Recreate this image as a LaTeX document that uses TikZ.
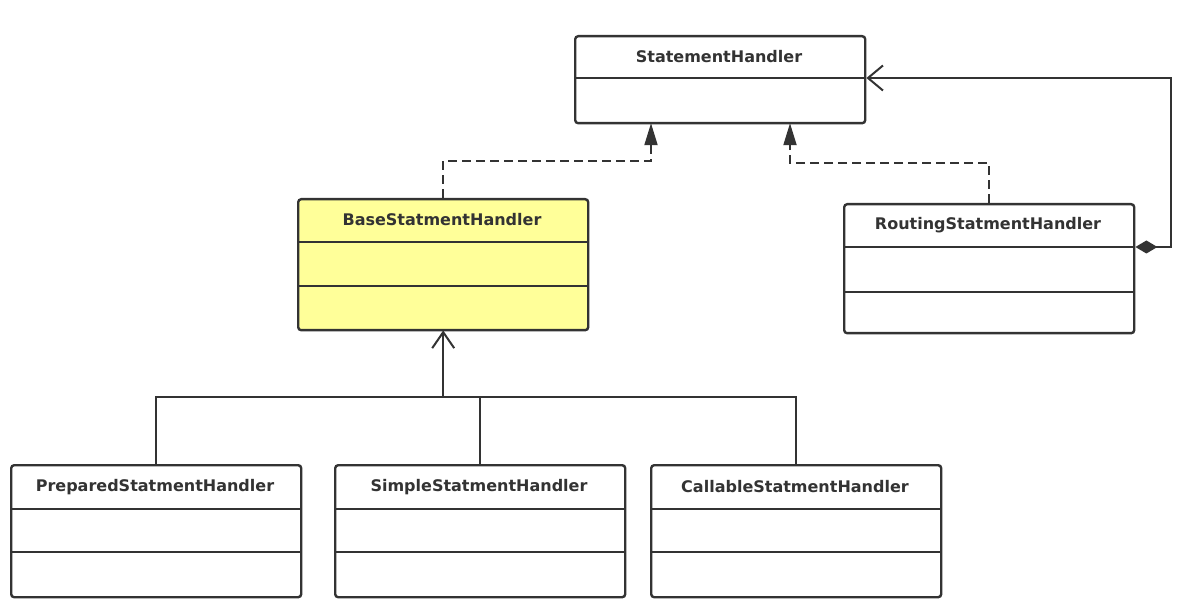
\documentclass[tikz,border=0pt]{standalone}
\usepackage{fontspec}
\setmainfont{DejaVu Sans}
\usetikzlibrary{arrows.meta}
\definecolor{ink}{HTML}{333333}
\definecolor{classyellow}{HTML}{FFFF99}
\tikzset{
  classbox/.style={draw=ink, line width=2.4pt, rounded corners=3pt, fill=white,
    minimum width=290pt, inner sep=0pt, anchor=north west},
  classname/.style={text=ink, font=\fontsize{16}{19}\selectfont\bfseries, inner sep=0pt},
  divider/.style={draw=ink, line width=2pt},
  link/.style={draw=ink, line width=2pt},
  realize/.style={link, dash pattern=on 9pt off 5pt, shorten >=-1.2pt,
    -{Triangle[length=22pt,width=13pt]}},
  inherit/.style={link, shorten >=-1pt,
    -{Straight Barb[length=16pt,width=22pt,line width=2pt]}},
  compose/.style={link, {Diamond[length=22pt,width=13pt]}-{Straight Barb[length=15pt,width=25pt,line width=2pt]}},
}
\begin{document}
\begin{tikzpicture}[x=1pt,y=-1pt]
  \useasboundingbox (0,0) rectangle (1194,601);

  % interface
  \node[classbox, minimum height=87pt] (sh) at (574,35) {};
  \node[classname] (sh-name) at (719,57) {StatementHandler};
  \draw[divider] (sh.west |- 0,78) -- (sh.east |- 0,78);

  % abstract base
  \node[classbox, fill=classyellow, minimum height=131pt] (base) at (297,198) {};
  \node[classname] (base-name) at (442,220) {BaseStatmentHandler};
  \draw[divider] (base.west |- 0,242) -- (base.east |- 0,242);
  \draw[divider] (base.west |- 0,286) -- (base.east |- 0,286);

  % routing delegate
  \node[classbox, minimum height=129pt] (route) at (843,203) {};
  \node[classname] (route-name) at (988,225) {RoutingStatmentHandler};
  \draw[divider] (route.west |- 0,247) -- (route.east |- 0,247);
  \draw[divider] (route.west |- 0,292) -- (route.east |- 0,292);

  % concrete handlers
  \node[classbox, minimum height=132pt] (prep) at (10,464) {};
  \node[classname] (prep-name) at (155,487) {PreparedStatmentHandler};
  \draw[divider] (prep.west |- 0,509) -- (prep.east |- 0,509);
  \draw[divider] (prep.west |- 0,552) -- (prep.east |- 0,552);

  \node[classbox, minimum height=132pt] (simple) at (334,464) {};
  \node[classname] (simple-name) at (479,487) {SimpleStatmentHandler};
  \draw[divider] (simple.west |- 0,509) -- (simple.east |- 0,509);
  \draw[divider] (simple.west |- 0,552) -- (simple.east |- 0,552);

  \node[classbox, minimum height=132pt] (call) at (650,464) {};
  \node[classname] (call-name) at (795,487) {CallableStatmentHandler};
  \draw[divider] (call.west |- 0,509) -- (call.east |- 0,509);
  \draw[divider] (call.west |- 0,552) -- (call.east |- 0,552);

  % realization
  \draw[realize] (base.north) -- (base.north |- 0,161) -- (651,161) -- (sh.south -| 651,0);
  \draw[realize] (route.north) -- (route.north |- 0,163) -- (790,163) -- (sh.south -| 790,0);

  % composition
  \draw[compose] (route.east |- 0,247) -- (1171,247) -- (1171,78) -- (sh.east |- 0,78);

  % generalization
  \coordinate (bus) at (base.south |- 0,397);
  \draw[link] (prep.north) -- (prep.north |- bus) -- (call.north |- bus) -- (call.north);
  \draw[link] (simple.north) -- (simple.north |- bus);
  \draw[inherit] (bus) -- (base.south);
\end{tikzpicture}
\end{document}
